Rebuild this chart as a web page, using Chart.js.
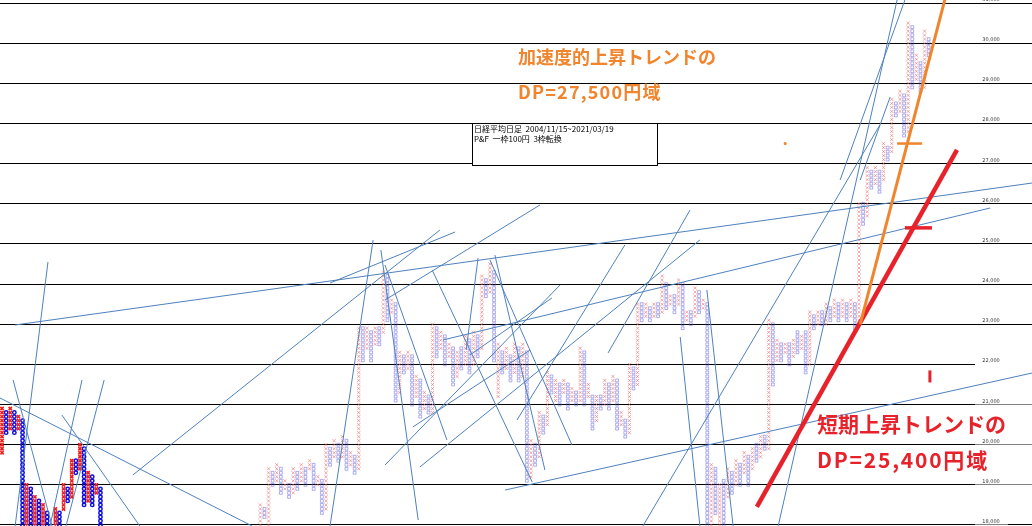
<!DOCTYPE html>
<html>
<head>
<meta charset="utf-8">
<script src="https://cdn.jsdelivr.net/npm/chart.js@4.4.1/dist/chart.umd.min.js"></script>
<style>
  html, body { margin: 0; padding: 0; background: #fff; }
  #wrap { width: 1032px; height: 526px; position: relative; }
</style>
</head>
<body>
<div id="wrap"><canvas id="pf"></canvas></div>
<script>
// P&F columns: [column, type, low, high], one box = 100 yen
const boxSize = 100;
const boldCols = 25; // first block is printed darker
const pfColumns = [
  [0,'X',19800,20900],[1,'O',20300,20800],[2,'X',20400,20900],[3,'O',20300,20800],[4,'X',20400,20700],
  [5,'O',17900,20600],[6,'X',17900,19000],[7,'O',17900,18900],[8,'X',17900,18700],[9,'O',17900,18600],
  [10,'X',17900,18500],[11,'O',17900,18300],[13,'X',17900,18400],[14,'O',17900,18300],[15,'X',18400,19000],
  [16,'O',18600,18900],[17,'X',18700,19600],[18,'O',19300,19600],[19,'X',19400,20000],[20,'O',18500,19900],
  [21,'X',18600,19300],[22,'O',18500,19200],[23,'X',18800,19000],[24,'O',17900,18900],

  [63,'X',17900,18500],[64,'O',18200,18400],[65,'X',18000,19400],[66,'O',19000,19300],[67,'X',19100,19500],
  [68,'O',18800,19400],[69,'X',18900,19100],[70,'O',18700,19000],[71,'X',18800,19400],[72,'O',18900,19300],
  [73,'X',19100,19500],[74,'O',19000,19400],[75,'X',19400,19600],[76,'O',18900,19500],[77,'X',19000,19200],
  [78,'O',18300,19100],[79,'X',18400,20000],[80,'O',19500,19900],[81,'X',19700,20100],[82,'O',19600,20000],
  [83,'X',19700,20200],[84,'O',19400,20100],[85,'X',19500,19800],[86,'O',19300,19700],

  [87,'X',19400,22900],[88,'O',22100,22900],[89,'X',22400,22900],[90,'O',22100,22800],[91,'X',22500,22900],
  [92,'O',22500,22900],[93,'X',22800,24300],[94,'O',23100,24200],[95,'X',23300,23600],[96,'O',21100,23500],
  [97,'X',21300,22300],[98,'O',21800,22200],[99,'X',21900,22300],[100,'O',21000,22200],[101,'X',21200,21700],
  [102,'O',20700,21600],[103,'X',20900,21300],[104,'O',20800,21200],[105,'X',20800,23000],[106,'O',22200,22900],
  [107,'X',22400,22800],[108,'O',22000,22700],[109,'X',22200,22500],[110,'O',21500,22400],[111,'X',21700,22300],
  [112,'O',21900,22400],[113,'X',22000,22700],[114,'O',21800,22600],[115,'X',22000,22800],[116,'O',22200,22700],
  [117,'X',22400,24200],[118,'O',23700,24100],[119,'X',23800,24500],[120,'O',22100,24300],[121,'X',21200,22500],
  [122,'O',21800,22300],[123,'X',21900,22400],[124,'O',21600,22200],[125,'X',21800,22500],[126,'O',21600,22400],
  [127,'X',21700,22500],[128,'O',19100,22300],[129,'X',19200,20100],[130,'O',19500,20000],[131,'X',19700,20800],
  [132,'O',20300,20700],[133,'X',20500,21800],[134,'O',21300,21700],[135,'X',21100,21600],[136,'O',21000,21500],
  [137,'X',21300,21600],[138,'O',20900,21500],[139,'X',21100,21400],[140,'O',21000,21300],[141,'X',21100,22400],
  [142,'O',21000,22300],[143,'X',21200,21500],[144,'O',20400,21200],[145,'X',20600,21200],[146,'O',20900,21200],
  [147,'X',21000,21600],[148,'O',20900,21500],[149,'X',21100,21700],[150,'O',20400,21600],[151,'X',20500,20800],
  [152,'O',20200,20600],[153,'X',20300,22000],[154,'O',21400,21900],[155,'X',21500,23500],[156,'O',23100,23500],
  [157,'X',23200,23500],[158,'O',23100,23400],[159,'X',23200,23500],[160,'O',23200,23500],[161,'X',23300,24200],
  [162,'O',23400,24000],[163,'X',23500,23700],[164,'O',23300,23700],[165,'X',23500,24100],[166,'O',22900,24000],
  [167,'X',23100,23300],[168,'O',23000,23300],[169,'X',23200,23900],[170,'O',23300,23800],[171,'X',23400,23600],
  [172,'O',17900,23500],[173,'X',17900,19500],[174,'O',18300,19400],[175,'X',17900,19000],[176,'O',17900,19100],
  [177,'X',18700,19400],[178,'O',18800,19300],[179,'X',19000,19600],[180,'O',19000,19500],[181,'X',19300,19800],
  [182,'O',19000,19700],[183,'X',19400,19900],[184,'O',19600,20000],[185,'X',19700,20200],[186,'O',19900,20200],
  [187,'X',19900,23100],[188,'O',21500,23000],[189,'X',22100,22600],[190,'O',22100,22500],[191,'X',22300,22500],
  [192,'O',22000,22500],[193,'X',22200,22600],[194,'O',22300,22800],[195,'X',22400,22700],[196,'O',21800,22800],
  [197,'X',22000,23300],[198,'O',22900,23200],[199,'X',23000,23300],[200,'O',23000,23300],[201,'X',23000,23500],
  [202,'O',23100,23400],[203,'X',23200,23600],[204,'O',23100,23500],[205,'X',23200,23600],[206,'O',23100,23500],
  [207,'X',23200,23600],[208,'O',22900,23500],[209,'X',23000,26000],[210,'O',25500,26000],[211,'X',25700,26900],
  [212,'O',26400,26800],[213,'X',26500,26900],[214,'O',26300,26800],[215,'X',26600,27500],[216,'O',27100,27400],
  [217,'X',27300,28600],[218,'O',28200,28500],[219,'X',28300,28800],[220,'O',27700,28700],[221,'X',27800,30500],
  [222,'O',28900,30400],[223,'X',29100,29700],[224,'O',28800,29500],[225,'X',28900,30300],[226,'O',29700,30100]
];

const yTicks = [18000,19000,20000,21000,22000,23000,24000,25000,26000,27000,28000,29000,30000,31000];

// hand-drawn trend lines: [col1, price1, col2, price2]
const blueLines = [
  [11.2,24550, 3.2,17975], [-0.5,21163, 61,17975], [14.6,20739, 33.6,17975], [2.7,21611, 12.2,17975],
  [19.5,21611, 11.7,17975], [24.9,21611, 15.6,17975], [31.9,19245, 106.8,25347], [3.2,22981, 251.2,26517],
  [90.5,25098, 80,17975], [92.4,24849, 101.5,18124], [93.4,24475, 108.5,20117], [80,24027, 110.5,25297],
  [107.5,22607, 241,25895], [122.7,18871, 251.2,21785], [156.3,17975, 214.1,27962], [189.3,17975, 218.3,31075],
  [171.9,23853, 178.3,17975], [209.3,26592, 216.6,28659], [204.4,26592, 220.2,31075], [165.4,22682, 170.2,17975],
  [125.6,20615, 151.9,24974], [147.8,22284, 167.8,25845], [101.9,19444, 170.2,25098], [119,24600, 139,19992],
  [114.1,22234, 134.1,23653], [104.9,24351, 129.3,19071], [116.1,24649, 113.2,22358], [120.2,24724, 132.4,19370],
  [93.4,19494, 136.1,23977], [100.2,20441, 128.8,22358], [93.4,23604, 131.2,25970]
];
const orangeTrend = [209.3, 23000, 230.5, 31300];
const redTrend = [184.1, 18450, 232.9, 27340];
const orangeDP = [218.3, 27500, 224.4, 27500];
const redDP = [220.2, 25400, 226.8, 25400];
const redMark = [226.3, 21550, 226.3, 21850];
const orangeDot = [191, 27500];

const titleLines = ['日経平均日足  2004/11/15~2021/03/19', 'P&F  一枠100円  3枠転換'];
const orangeNote = ['加速度的上昇トレンドの', 'DP=27,500円域'];
const redNote = ['短期上昇トレンドの', 'DP=25,400円域'];

const BLUE = '#4f81bd', ORANGE = '#f0852d', RED = '#e8222a';

function boxes(type, bold) {
  const pts = [];
  pfColumns.forEach(([c, t, lo, hi]) => {
    if (t !== type || (c < boldCols) !== bold) return;
    for (let p = lo; p <= hi; p += boxSize) pts.push({x: c, y: p});
  });
  return pts;
}

function seg(s, color, width, order) {
  return {
    type: 'line',
    data: [{x: s[0], y: s[1]}, {x: s[2], y: s[3]}],
    borderColor: color, borderWidth: width,
    pointRadius: 0, fill: false, order: order
  };
}

const datasets = [
  seg(orangeTrend, ORANGE, 3, 0),
  seg(redTrend, RED, 4.5, 0),
  seg(orangeDP, ORANGE, 2.5, 0),
  seg(redDP, RED, 3.5, 0),
  seg(redMark, RED, 3, 0),
  { data: [{x: orangeDot[0], y: orangeDot[1]}], pointStyle: 'rect', radius: 1.3,
    backgroundColor: ORANGE, borderColor: ORANGE, order: 0 },
  ...blueLines.map(s => seg(s, BLUE, 1, 1)),
  { data: boxes('X', false), pointStyle: 'crossRot', radius: 2.2, borderWidth: 1,
    borderColor: 'rgba(235,95,95,0.55)', order: 2 },
  { data: boxes('O', false), pointStyle: 'rect', radius: 2.0, borderWidth: 1,
    borderColor: 'rgba(95,95,225,0.5)', backgroundColor: 'rgba(0,0,0,0)', order: 2 },
  { data: boxes('X', true), pointStyle: 'crossRot', radius: 2.3, borderWidth: 1.6,
    borderColor: '#ee1c1c', order: 2 },
  { data: boxes('O', true), pointStyle: 'circle', radius: 1.7, borderWidth: 1.5,
    borderColor: '#1010e0', backgroundColor: 'rgba(0,0,0,0)', order: 2 }
];

const overlay = {
  id: 'overlay',
  afterDraw(chart) {
    const ctx = chart.ctx;
    const ys = chart.scales.y;
    ctx.save();
    // tick labels sit just above each line, near the right edge
    ctx.font = '5px "DejaVu Sans"';
    ctx.fillStyle = '#333';
    ctx.textAlign = 'center';
    ctx.textBaseline = 'bottom';
    yTicks.forEach(v => {
      const py = Math.round(ys.getPixelForValue(v)) + 0.5;
      if (v <= 22000) {
        ctx.fillStyle = '#fff';
        ctx.fillRect(975, py - 1, v === 18000 ? 33 : 60, 2);
        ctx.fillStyle = '#333';
      }
      ctx.fillText(v.toLocaleString('en-US'), 991, py - 1);
    });

    // title box
    ctx.fillStyle = '#fff';
    ctx.fillRect(472, 123, 186, 43);
    ctx.strokeStyle = '#000';
    ctx.lineWidth = 1;
    ctx.strokeRect(472.5, 123.5, 185, 42);
    ctx.fillStyle = '#000';
    ctx.textAlign = 'left';
    ctx.textBaseline = 'middle';
    ctx.font = '8px "Noto Sans CJK JP"';
    ctx.fillText(titleLines[0], 474, 129);
    ctx.fillText(titleLines[1], 474, 139);

    // notes
    ctx.font = 'bold 18px "Noto Sans CJK JP"';
    ctx.fillStyle = ORANGE;
    ctx.fillText(orangeNote[0], 518, 57);
    ctx.letterSpacing = '1.2px';
    ctx.fillText(orangeNote[1], 518, 92);
    ctx.letterSpacing = '0px';
    ctx.font = 'bold 21px "Noto Sans CJK JP"';
    ctx.fillStyle = RED;
    ctx.fillText(redNote[0], 817, 424);
    ctx.letterSpacing = '1.8px';
    ctx.fillText(redNote[1], 817, 460);
    ctx.letterSpacing = '0px';
    ctx.restore();
  }
};

new Chart(document.getElementById('pf'), {
  type: 'scatter',
  data: { datasets: datasets },
  options: {
    responsive: true,
    maintainAspectRatio: false,
    animation: false,
    layout: { padding: 0, autoPadding: false },
    plugins: { legend: { display: false }, tooltip: { enabled: false } },
    scales: {
      x: { type: 'linear', min: -0.5, max: 251.2, display: false },
      y: {
        type: 'linear', min: 17975, max: 31075, position: 'right',
        afterFit: s => { s.width = 0; },
        afterBuildTicks: s => { s.ticks = yTicks.map(v => ({value: v})); },
        ticks: { display: false },
        border: { display: false },
        grid: { color: '#000', lineWidth: 1, drawTicks: false }
      }
    }
  },
  plugins: [overlay]
});
</script>
</body>
</html>
